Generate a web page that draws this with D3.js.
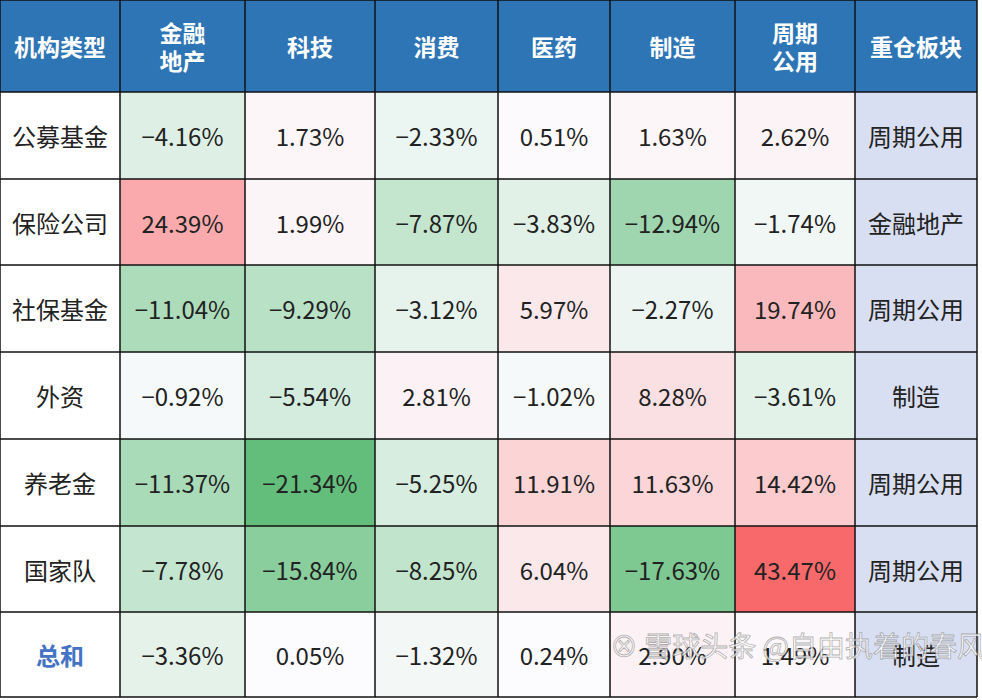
<!DOCTYPE html>
<html><head><meta charset="utf-8">
<script src="https://cdn.jsdelivr.net/npm/d3@7"></script>
<style>body{margin:0;background:#fff}</style>
</head><body><svg id="c"></svg>
<script>
const headers = ["机构类型", "金融\n地产", "科技", "消费", "医药", "制造", "周期\n公用", "重仓板块"];
const institutions = ["公募基金", "保险公司", "社保基金", "外资", "养老金", "国家队", "总和"];
const values = [
  [-4.16, 1.73, -2.33, 0.51, 1.63, 2.62],
  [24.39, 1.99, -7.87, -3.83, -12.94, -1.74],
  [-11.04, -9.29, -3.12, 5.97, -2.27, 19.74],
  [-0.92, -5.54, 2.81, -1.02, 8.28, -3.61],
  [-11.37, -21.34, -5.25, 11.91, 11.63, 14.42],
  [-7.78, -15.84, -8.25, 6.04, -17.63, 43.47],
  [-3.36, 0.05, -1.32, 0.24, 2.90, 1.49]
];
const topSector = ["周期公用", "金融地产", "周期公用", "制造", "周期公用", "周期公用", "制造"];

const colEdges = [0, 120, 245, 375, 498, 610, 735, 855, 977];
const rowEdges = [0, 92, 179, 265, 352, 439, 526, 612, 697];
const font = "'Noto Sans CJK SC', 'Noto Sans', sans-serif";

const svg = d3.select("#c").attr("width", 982).attr("height", 700);
const all = values.flat();
const color = d3.scaleLinear()
  .domain([d3.min(all), 0, d3.max(all)])
  .range(["#63BE7B", "#FCFCFF", "#F8696B"]);

// header
headers.forEach((h, i) => {
  svg.append("rect").attr("x", colEdges[i]).attr("y", 0)
    .attr("width", colEdges[i+1]-colEdges[i]).attr("height", rowEdges[1])
    .attr("fill", "#2E75B6");
  const lines = h.split("\n");
  const cx = (colEdges[i]+colEdges[i+1])/2;
  lines.forEach((l, k) => {
    svg.append("text").attr("x", cx)
      .attr("y", rowEdges[1]/2 + (k - (lines.length-1)/2)*28)
      .attr("text-anchor", "middle").attr("dominant-baseline", "central")
      .attr("fill", "#fff").style("font-family", font)
      .style("font-size", "23px").style("font-weight", "bold").text(l);
  });
});

institutions.forEach((inst, r) => {
  const y0 = rowEdges[r+1], y1 = rowEdges[r+2], cy = (y0+y1)/2;
  const cells = [inst].concat(values[r]).concat([topSector[r]]);
  cells.forEach((v, c) => {
    let fill = "#fff";
    if (c >= 1 && c <= 6) fill = color(v);
    if (c === 7) fill = "#D9DFF2";
    svg.append("rect").attr("x", colEdges[c]).attr("y", y0)
      .attr("width", colEdges[c+1]-colEdges[c]).attr("height", y1-y0)
      .attr("fill", fill);
    const isTotal = c === 0 && inst === "总和";
    svg.append("text").attr("x", (colEdges[c]+colEdges[c+1])/2).attr("y", cy)
      .attr("text-anchor", "middle").attr("dominant-baseline", "central")
      .attr("fill", isTotal ? "#4472C4" : "#222")
      .style("font-family", font)
      .style("font-size", "24px")
      .style("font-weight", isTotal ? "bold" : "normal")
      .text(typeof v === "number" ? (v < 0 ? "\u2212" + Math.abs(v).toFixed(2) : v.toFixed(2)) + "%" : v);
  });
});

// grid
colEdges.forEach(x => svg.append("line").attr("x1", x).attr("x2", x)
  .attr("y1", 0).attr("y2", rowEdges[rowEdges.length-1]).attr("stroke", "#111").attr("stroke-width", 1.5));
rowEdges.forEach(y => svg.append("line").attr("x1", 0).attr("x2", colEdges[colEdges.length-1])
  .attr("y1", y).attr("y2", y).attr("stroke", "#111").attr("stroke-width", 1.5));

// watermark
svg.append("text").attr("x", 610).attr("y", 657).attr("text-anchor", "start")
  .attr("fill", "rgba(255,255,255,0.75)").attr("stroke", "rgba(120,120,120,0.6)").attr("stroke-width", 0.8)
  .style("font-family", font).style("font-size", "28px").text("⊗ 雪球头条 @自由执着的春风");
</script></body></html>
